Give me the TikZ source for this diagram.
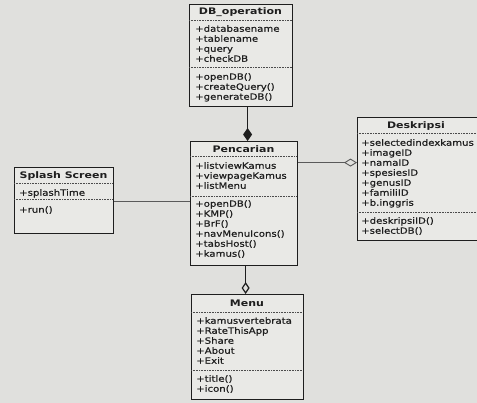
\documentclass[tikz,border=0pt]{standalone}
\usepackage{fontspec}
\setmainfont[FakeStretch=1.18,FakeBold=0.6]{DejaVu Sans}
\newfontfamily\titlefont[FakeStretch=1.22]{DejaVu Sans Bold}
\usetikzlibrary{arrows.meta}
\definecolor{bg}{RGB}{224,224,221}
\definecolor{boxbg}{RGB}{233,233,230}
\definecolor{ink}{RGB}{30,30,30}
\definecolor{soft}{RGB}{90,90,90}
\begin{document}
\begin{tikzpicture}[x=1pt,y=-1pt,
  cls/.style={draw=ink, line width=1.2pt, fill=boxbg, anchor=north west, inner sep=0pt},
  sepline/.style={draw=ink!80, line width=0.9pt, dash pattern=on 1pt off 0.6pt},
  ttl/.style={font=\fontsize{9}{10}\titlefont, text=ink, inner sep=0pt},
  txt/.style={font=\fontsize{8.6}{10}\selectfont, text=ink, align=left, anchor=north west, inner sep=0pt},
  strong/.style={draw=ink, line width=1.3pt},
  weak/.style={draw=soft, line width=0.9pt}
]
\fill[bg] (0,0) rectangle (477,403);
\clip (0,0) rectangle (477,403);
\useasboundingbox (0,0) rectangle (477,403);

% DB_operation
\node[cls, minimum width=103pt, minimum height=102pt] (db) at (189,4) {};
\draw[sepline] (189,20) -- (292,20);
\draw[sepline] (189,67) -- (292,67);
\node[ttl] (dbt) at (240.5,12) {DB\_operation};
\node[txt] (dba) at (195,25) {+databasename\\+tablename\\+query\\+checkDB};
\node[txt] (dbm) at (195,73) {+openDB()\\+createQuery()\\+generateDB()};

% Pencarian
\node[cls, minimum width=107pt, minimum height=124pt] (pen) at (190,141) {};
\draw[sepline] (190,156) -- (297,156);
\draw[sepline] (190,196) -- (297,196);
\node[ttl] (pent) at (243.5,149) {Pencarian};
\node[txt] (pena) at (195,162) {+listviewKamus\\+viewpageKamus\\+listMenu};
\node[txt] (penm) at (195,200) {+openDB()\\+KMP()\\+BrF()\\+navMenuIcons()\\+tabsHost()\\+kamus()};

% Splash Screen
\node[cls, minimum width=99pt, minimum height=66pt] (spl) at (14,167) {};
\draw[sepline] (14,183) -- (113,183);
\draw[sepline] (14,199) -- (113,199);
\node[ttl] (splt) at (63.5,176) {Splash Screen};
\node[txt] (spla) at (19,189) {+splashTime};
\node[txt] (splm) at (19,206) {+run()};

% Deskripsi
\node[cls, minimum width=133pt, minimum height=123pt] (des) at (357,117) {};
\draw[sepline] (357,133) -- (490,133);
\draw[sepline] (357,212) -- (490,212);
\node[ttl] (dest) at (416,126) {Deskripsi};
\node[txt] (desa) at (361,139) {+selectedindexkamus\\+imageID\\+namaID\\+spesiesID\\+genusID\\+familiID\\+b.inggris};
\node[txt] (desm) at (361,217) {+deskripsiID()\\+selectDB()};

% Menu
\node[cls, minimum width=112pt, minimum height=105pt] (menu) at (191,294) {};
\draw[sepline] (191,312) -- (303,312);
\draw[sepline] (191,370) -- (303,370);
\node[ttl] (menut) at (247,303) {Menu};
\node[txt] (menua) at (196,317) {+kamusvertebrata\\+RateThisApp\\+Share\\+About\\+Exit};
\node[txt] (menum) at (196,375) {+title()\\+icon()};

% connectors
\draw[strong, -{Diamond[length=13pt,width=9pt,fill=ink]}]
  ([xshift=6.5pt]db.south) -- ([xshift=6.5pt]db.south |- pen.north);
\draw[weak, -{Diamond[open,length=13pt,width=8pt,fill=bg]}]
  ([yshift=41pt]pen.east) -- ([yshift=41pt]pen.east -| des.west);
\draw[weak] ([yshift=-1pt]spl.east) -- ([yshift=-1pt]spl.east -| pen.west);
\draw[weak, line width=1.2pt, draw=ink, -{Diamond[open,length=12pt,width=8pt,fill=bg]}]
  ([xshift=1.5pt]pen.south) -- ([xshift=1.5pt]pen.south |- menu.north);
\end{tikzpicture}
\end{document}
